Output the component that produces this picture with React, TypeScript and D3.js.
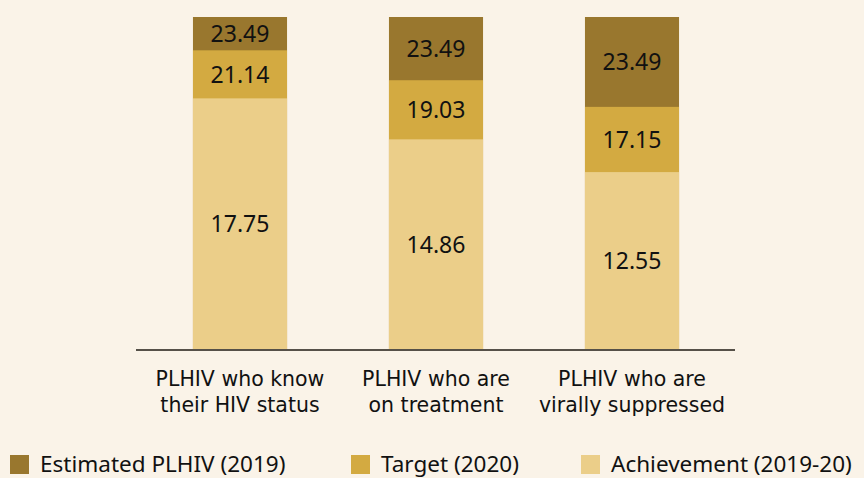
import React from "react";
import * as d3 from "d3";

const categories = [
  ["PLHIV who know", "their HIV status"],
  ["PLHIV who are", "on treatment"],
  ["PLHIV who are", "virally suppressed"],
];
const estimated = [23.49, 23.49, 23.49];
const target = [21.14, 19.03, 17.15];
const achievement = [17.75, 14.86, 12.55];

const seriesNames = ["Estimated PLHIV (2019)", "Target (2020)", "Achievement (2019-20)"];
const colors = ["#99772E", "#D3AA41", "#EBCE89"];

const W = 864;
const H = 478;
const FONT = "'Noto Sans', 'Open Sans', sans-serif";
const LABEL_FONT = "'DejaVu Sans', sans-serif";

export default function App() {
  const keys = categories.map((_, i) => String(i));
  const x = d3.scaleBand().domain(keys).range([142, 730]).paddingInner(0.52).paddingOuter(0.26);
  const y = d3.scaleLinear().domain([0, 23.49]).range([350, 17]);
  const bw = x.bandwidth();

  const layers = [estimated, target, achievement];

  return (
    <svg
      width={W}
      height={H}
      style={{ position: "fixed", left: 0, top: 0, background: "#FAF3E8" }}
      fontFamily={FONT}
    >
      <rect x={0} y={0} width={W} height={H} fill="#FAF3E8" />
      {layers.map((vals, li) => (
        <g key={li}>
          {vals.map((v, i) => (
            <rect
              key={i}
              x={x(String(i))!}
              y={y(v)}
              width={bw}
              height={y(0) - y(v)}
              fill={colors[li]}
            />
          ))}
        </g>
      ))}
      {layers.map((vals, li) => (
        <g key={"l" + li}>
          {vals.map((v, i) => {
            const lower = li < 2 ? layers[li + 1][i] : 0;
            const cy = (y(v) + y(lower)) / 2;
            return (
              <text
                key={i}
                x={x(String(i))! + bw / 2}
                y={cy}
                dy="0.36em"
                textAnchor="middle"
                fontSize={23}
                fill="#111"
              >
                {v.toFixed(2)}
              </text>
            );
          })}
        </g>
      ))}
      <line x1={136} x2={735} y1={y(0)} y2={y(0)} stroke="#555048" strokeWidth={2} />
      {categories.map((lines, i) =>
        lines.map((t, j) => (
          <text
            key={i + "-" + j}
            x={x(String(i))! + bw / 2}
            y={386 + j * 26}
            textAnchor="middle"
            fontSize={20.5}
            fontFamily={LABEL_FONT}
            fill="#111"
          >
            {t}
          </text>
        ))
      )}
      {seriesNames.map((name, i) => {
        const lx = [10, 351, 581][i];
        return (
          <g key={name}>
            <rect x={lx} y={455} width={19} height={19} fill={colors[i]} />
            <text x={lx + 30} y={472} fontSize={22.5} fill="#111">
              {name}
            </text>
          </g>
        );
      })}
    </svg>
  );
}
